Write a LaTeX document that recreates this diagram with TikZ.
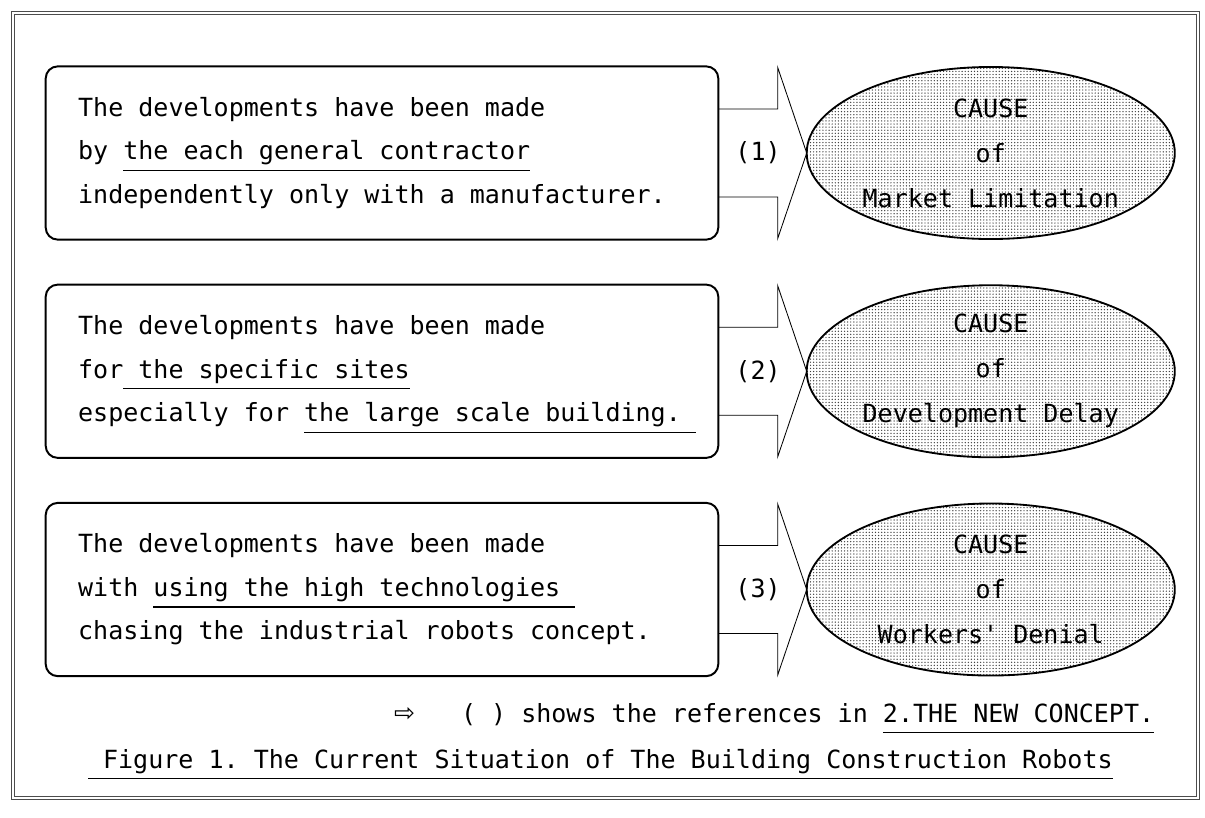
\documentclass[tikz,border=0pt]{standalone}
\usepackage{fontspec}
\setmonofont{DejaVu Sans Mono}
\newfontfamily\arrowfont{DejaVu Sans}
\usetikzlibrary{calc,positioning,shapes.geometric,patterns.meta}

% underline that does not change the line depth
\newcommand{\undl}[1]{\setbox0=\hbox{#1}\rlap{\raisebox{-0.45em}[0pt][0pt]{\rule{\wd0}{0.9pt}}}\box0}

\begin{document}
\begin{tikzpicture}[x=0.025cm, y=-0.025cm,
       every node/.style={font=\ttfamily\fontsize{17.8}{31}\selectfont, inner sep=0pt, outer sep=0pt},
       devbox/.style={draw, line width=1.4pt, rounded corners=0.3cm,
                      minimum width=16.81cm, minimum height=4.33cm,
                      text width=15.19cm, align=flush left},
       cause/.style={ellipse, draw, line width=1.3pt,
                     pattern={Dots[distance=2.2pt,radius=0.5pt]}, pattern color=black!75,
                     minimum width=9.2cm, minimum height=4.3cm, align=center,
                     font=\ttfamily\fontsize{17.8}{32}\selectfont},
       blockarrow/.style={line width=0.6pt},
       frame/.style={draw=black!70, double, double distance=0.07cm, line width=0.4pt}]

	\useasboundingbox (0,0) rectangle (1205,817);
	\draw[frame] (13,13) rectangle (1198,798);

	%% The three situations
	\node[devbox] (dev1) at (382,153) {The developments have been made\\
		by \undl{the each general contractor}\\
		independently only with a manufacturer.};
	\node[devbox, below=1.125cm of dev1] (dev2) {The developments have been made\\
		for\undl{ the specific sites}\\
		especially~for~\undl{the large scale building. }};
	\node[devbox, below=1.125cm of dev2] (dev3) {The developments have been made\\
		with \undl{using the high technologies }\\
		chasing the industrial robots concept.};

	%% The causes
	\node[cause, right=2.21cm of dev1] (cause1) {CAUSE\\of\\Market Limitation};
	\node[cause, right=2.21cm of dev2] (cause2) {CAUSE\\of\\Development Delay};
	\node[cause, right=2.21cm of dev3] (cause3) {CAUSE\\of\\Workers' Denial};

	%% Block arrows with the references
	\foreach \i in {1,2,3}
		{\draw[blockarrow] ($(dev\i.east)+(0,-44)$) -- ($(cause\i.west)+(-29,-44)$) -- ++(0,-41.5)
			-- (cause\i.west) -- ++(-29,85.5) -- ++(0,-41.5) -- ($(dev\i.east)+(0,44)$);
		 \node (ref\i) at ($(dev\i.east)!0.45!(cause\i.west)$) {(\i)};}

	%% Note and caption
	\node[anchor=base west] (note) at (461,722) {( ) shows the references in \undl{2.THE NEW CONCEPT.}};
	\node[left=1.15cm of note, font=\arrowfont\fontsize{17.8}{31}\selectfont] (notearrow) {⇨};
	\node[anchor=base west] (caption) at (88,768)
		{\undl{ Figure 1. The Current Situation of The Building Construction Robots}};
\end{tikzpicture}
\end{document}
